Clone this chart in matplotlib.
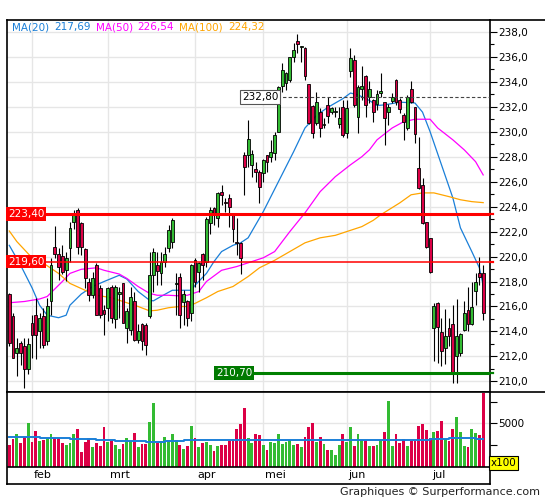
import matplotlib
matplotlib.use('Agg')
import matplotlib.pyplot as plt
from matplotlib.lines import Line2D
import numpy as np

# daily candles, trading-day index 0..125 (late jan -> mid jul)
opens = [217.0, 215.2, 212.25, 213.05, 212.8, 211.0, 214.65, 215.3, 214.0, 215.2,
         213.2, 216.4, 220.8, 220.2, 220.05, 218.9, 220.7, 222.8, 223.75, 222.7,
         220.6, 218.0, 216.9, 219.3, 217.45, 215.7, 215.85, 217.6, 215.0, 217.0,
         217.85, 214.25, 214.1, 216.4, 213.35, 214.6, 214.5, 215.2, 218.5, 219.3,
         218.65, 219.6, 220.7, 221.2, 217.8, 218.35, 216.35, 216.4, 215.45, 219.75,
         218.8, 220.2, 219.6, 222.7, 223.9, 223.1, 225.2, 224.35, 224.7, 223.35,
         221.2, 221.05, 228.15, 228.15, 227.3, 227.05, 226.8, 226.7, 228.1, 228.0,
         228.3, 230.0, 233.7, 233.9, 234.15, 235.95, 237.25, 236.8, 236.7, 233.8,
         232.1, 230.7, 231.55, 230.55, 232.15, 231.55, 231.55, 230.6, 231.95, 229.9,
         234.9, 235.75, 231.2, 233.45, 234.45, 232.8, 232.55, 232.2, 233.1, 232.4,
         231.55, 232.5, 234.15, 232.55, 231.35, 230.3, 233.45, 231.95, 227.1, 225.75,
         222.75, 221.5, 214.25, 216.26, 213.99, 212.65, 214.25, 214.6, 212.0, 212.3,
         214.1, 215.7, 214.6, 217.25, 218.7, 218.7]
highs = [217.1, 215.5, 213.45, 213.2, 213.45, 213.45, 215.3, 216.7, 215.45, 215.85,
         216.7, 219.9, 222.45, 220.7, 220.9, 220.4, 222.8, 223.75, 223.9, 222.8,
         220.65, 218.3, 218.8, 219.45, 217.7, 216.1, 217.6, 217.75, 217.75, 217.6,
         217.85, 215.85, 217.6, 217.2, 214.6, 214.65, 214.65, 220.4, 220.7, 220.4,
         220.4, 220.8, 222.5, 223.1, 218.65, 218.65, 217.35, 216.5, 219.4, 219.9,
         219.55, 220.25, 223.2, 224.0, 224.0, 225.2, 225.7, 224.7, 225.05, 223.5,
         223.1, 221.2, 228.35, 230.9, 228.5, 227.6, 226.9, 227.8, 228.15, 229.3,
         230.0, 233.7, 235.5, 234.8, 236.0, 237.1, 237.8, 236.9, 236.75, 233.85,
         232.15, 233.2, 231.9, 231.1, 232.8, 232.0, 232.0, 231.95, 232.55, 232.55,
         236.7, 236.15, 233.75, 235.25, 234.55, 234.05, 232.65, 233.35, 234.7, 232.4,
         232.2, 233.1, 234.2, 232.7, 231.5, 232.95, 234.05, 232.0, 229.6, 226.3,
         222.8, 221.5, 216.3, 216.35, 215.1, 215.8, 215.05, 216.1, 216.6, 213.9,
         216.4, 217.6, 218.0, 218.65, 220.0, 219.35]
lows = [212.8, 211.85, 210.45, 211.3, 209.5, 210.6, 211.85, 211.8, 212.65, 212.65,
        212.9, 215.3, 219.85, 218.1, 218.6, 218.05, 219.6, 222.2, 220.2, 220.1,
        217.45, 216.4, 216.65, 215.3, 215.05, 213.7, 214.8, 214.65, 214.25, 215.05,
        214.65, 213.05, 213.7, 213.2, 213.05, 212.5, 212.1, 215.05, 217.2, 217.7,
        217.7, 219.2, 220.4, 220.7, 215.3, 214.25, 214.5, 214.4, 214.8, 217.6,
        217.2, 218.1, 219.2, 221.8, 222.55, 222.4, 224.15, 223.6, 222.4, 221.2,
        220.1, 218.6, 224.95, 227.2, 226.4, 226.0, 224.3, 226.0, 226.8, 227.6,
        227.7, 229.95, 233.2, 233.35, 234.0, 235.6, 236.3, 235.6, 234.15, 230.6,
        229.5, 230.55, 229.55, 230.3, 230.7, 231.4, 231.2, 230.3, 229.6, 229.5,
        234.4, 232.0, 229.9, 232.55, 231.2, 232.3, 230.8, 231.75, 232.8, 228.95,
        230.55, 232.3, 232.15, 231.5, 229.35, 230.15, 232.3, 229.1, 225.45, 222.6,
        220.7, 218.7, 211.6, 211.45, 211.2, 211.4, 212.8, 209.9, 209.85, 212.0,
        214.0, 214.0, 214.5, 216.1, 217.75, 214.9]
closes = [213.05, 211.9, 212.7, 212.3, 211.0, 213.0, 213.7, 213.7, 215.1, 212.9,
          216.0, 219.3, 220.2, 219.2, 218.8, 219.9, 222.3, 223.5, 220.8, 220.8,
          218.3, 216.9, 218.25, 215.3, 215.3, 215.4, 217.45, 215.05, 217.6, 217.2,
          214.65, 215.6, 216.8, 213.35, 214.0, 213.25, 212.9, 218.55, 220.35, 218.85,
          219.6, 220.2, 222.1, 222.95, 217.9, 215.3, 217.0, 215.05, 219.35, 218.0,
          219.5, 219.3, 223.0, 223.75, 223.45, 225.1, 224.9, 224.3, 224.0, 222.2,
          221.05, 219.85, 227.15, 229.45, 228.2, 226.8, 225.6, 227.75, 227.55, 228.35,
          229.7, 233.6, 234.95, 234.7, 235.95, 236.55, 237.05, 236.9, 234.5, 230.7,
          229.9, 232.4, 230.3, 230.65, 231.25, 231.9, 231.65, 231.1, 229.75, 231.9,
          235.9, 232.15, 233.6, 233.7, 232.15, 233.45, 231.55, 233.0, 233.3, 231.1,
          232.0, 232.8, 232.4, 231.8, 230.75, 232.8, 232.4, 229.8, 225.5, 222.7,
          220.8, 218.75, 216.05, 214.39, 212.46, 213.64, 213.6, 210.7, 213.6, 213.8,
          215.5, 214.6, 215.95, 218.0, 218.4, 215.5]
# volume in units of 100
volumes = [2560, 3240, 3720, 2760, 3440, 5040, 2880, 4080, 3000, 3120,
           3360, 3720, 3280, 3280, 2760, 2520, 2760, 3720, 4320, 1680,
           2880, 3360, 2280, 2760, 2400, 4560, 2880, 3000, 2520, 2040,
           2640, 3360, 3000, 3840, 2280, 2640, 2640, 5160, 7320, 2760,
           3000, 3480, 3120, 3720, 3120, 2520, 2040, 2400, 4680, 3360,
           2280, 2760, 2880, 2520, 1800, 2400, 2520, 2520, 3000, 3240,
           4320, 4920, 6720, 3360, 2760, 3720, 3600, 2520, 1920, 2880,
           2760, 3720, 2640, 2880, 3120, 2520, 2640, 2280, 3480, 4560,
           5040, 2880, 3480, 2640, 1920, 1920, 1320, 2520, 3720, 2880,
           4560, 2400, 3720, 3120, 3000, 2400, 2400, 2520, 3120, 3960,
           7560, 2400, 3720, 2760, 3240, 2400, 3000, 3000, 4680, 4920,
           4200, 3360, 3960, 4080, 5280, 3240, 3000, 4320, 5760, 3960,
           2400, 2280, 4320, 3840, 3600, 8520]

# moving averages (index, value)
ma20_idx = [0, 3, 6, 8, 10, 13, 15, 16, 19, 22, 25, 29, 31, 34, 37, 38, 40, 43, 45, 48,
            49, 52, 54, 56, 59, 61, 63, 67, 71, 75, 78, 81, 84, 88, 90, 92, 95, 97, 99,
            103, 107, 109, 111, 114, 117, 119, 122, 124, 125]
ma20_val = [220.9, 219.3, 217.5, 216.1, 215.3, 215.1, 215.3, 216.1, 217.0, 217.6, 218.0,
            218.5, 218.2, 217.2, 216.5, 216.45, 216.8, 217.3, 217.3, 217.3, 217.7, 218.65,
            219.6, 220.4, 220.9, 221.1, 221.5, 223.6, 226.0, 228.4, 230.3, 231.3, 231.95,
            232.65, 233.1, 232.95, 232.5, 232.1, 232.15, 232.37, 232.3, 231.57, 230.0,
            227.35, 224.7, 222.3, 220.4, 219.1, 217.69]
ma50_idx = [0, 4, 8, 10, 14, 16, 19, 23, 25, 29, 31, 34, 37, 39, 42, 45, 47, 50, 52, 56,
            60, 63, 67, 70, 74, 78, 82, 86, 90, 93, 95, 97, 101, 104, 107, 111, 113, 117,
            120, 123, 125]
ma50_val = [216.3, 216.4, 216.6, 216.8, 218.0, 218.65, 218.98, 219.1, 218.9, 218.6, 218.25,
            217.6, 217.05, 216.9, 216.9, 216.85, 216.9, 217.2, 218.0, 218.9, 219.2, 219.5,
            219.9, 220.4, 222.0, 223.5, 225.2, 226.4, 227.35, 228.0, 228.55, 229.35, 230.3,
            230.8, 231.0, 231.0, 230.3, 229.35, 228.55, 227.6, 226.54]
ma100_idx = [0, 2, 6, 9, 13, 16, 20, 23, 27, 31, 34, 37, 39, 42, 45, 47, 49, 52, 55, 59,
             61, 63, 66, 70, 74, 78, 82, 86, 89, 93, 96, 98, 103, 106, 109, 112, 116, 119,
             122, 125]
ma100_val = [222.05, 221.2, 219.9, 219.47, 218.65, 217.85, 217.3, 216.9, 216.7, 216.3, 216.0,
             215.65, 215.7, 215.9, 216.0, 216.0, 216.25, 216.7, 217.2, 217.6, 218.0, 218.4,
             219.1, 219.7, 220.4, 221.1, 221.5, 221.7, 222.0, 222.4, 222.9, 223.35, 224.3,
             224.95, 225.1, 225.1, 224.8, 224.55, 224.4, 224.32]
# volume average, drawn as steps
vma_idx = [0, 8, 16, 23, 28, 36, 41, 46, 100, 111, 116, 123, 125]
vma_val = [3480, 3320, 3220, 3080, 2950, 2840, 2950, 3080, 3120, 3200, 3320, 3250, 3250]

month_start = [6, 26, 49, 67, 89, 111]
month_names = ['feb', 'mrt', 'apr', 'mei', 'jun', 'jul']

levels = [223.40, 219.60]
resist = 232.80
support = 210.70

GREEN = '#33bb33'
RED = '#dc0046'
BLUE = '#1a7fd8'
MAG = '#ff00ff'
ORANGE = '#ffa500'
GRID = '#e6e6e6'

plt.rcParams['font.family'] = ['DejaVu Sans']
fig = plt.figure(figsize=(5.45, 5.0), dpi=100)
W, H = 545.0, 500.0
left, right = 7 / W, 490 / W
ax = fig.add_axes([left, (H - 392) / H, right - left, (392 - 20) / H])
axv = fig.add_axes([left, (H - 484) / H, right - left, (484 - 392) / H])

n = len(closes)
x = np.arange(n)
o = np.array(opens); c = np.array(closes)
up = c >= o
cols = np.where(up, GREEN, RED)
XMAX = 126.8

# price panel
for m in month_start:
    ax.axvline(m, color=GRID, lw=1, zorder=0)
for p in range(210, 240, 2):
    ax.axhline(p, color=GRID, lw=1, zorder=0)

ax.vlines(x, lows, highs, color='black', lw=0.8, zorder=3)
body = np.maximum(np.abs(c - o), 0.06)
ax.bar(x, body, bottom=np.minimum(o, c), width=0.75, color=cols,
       edgecolor='black', linewidth=0.6, zorder=4)

ax.plot(ma20_idx, ma20_val, color=BLUE, lw=0.9, zorder=2)
ax.plot(ma50_idx, ma50_val, color=MAG, lw=0.9, zorder=2)
ax.plot(ma100_idx, ma100_val, color=ORANGE, lw=0.9, zorder=2)

ax.axhline(levels[0], color='red', lw=2.2, zorder=5)
ax.axhline(levels[1], color='red', lw=1.1, zorder=5)
ax.hlines(resist, 70.7, XMAX, color='#444444', lw=0.8, linestyles=(0, (3, 2)), zorder=5)
ax.hlines(support, 54.5, XMAX, color='#008000', lw=2.2, zorder=5)
# small marks on the price scale for each level
for lv, col in [(levels[0], 'red'), (levels[1], 'red'), (support, '#008000')]:
    ax.plot([XMAX, XMAX + 0.9], [lv, lv], color=col, lw=1.6, clip_on=False, zorder=6)

yt = ax.get_yaxis_transform()
for lv in levels:
    ax.text(0.002, lv, f'{lv:.2f}'.replace('.', ','), transform=yt, ha='left', va='center',
            color='white', fontsize=7.5, zorder=6,
            bbox=dict(boxstyle='square,pad=0.18', fc='#ff0000', ec='none'))
ax.text(61.4, resist, f'{resist:.2f}'.replace('.', ','), ha='left', va='center',
        color='black', fontsize=7.5, zorder=6,
        bbox=dict(boxstyle='square,pad=0.18', fc='white', ec='#555555', lw=0.8))
ax.text(54.6, support, f'{support:.2f}'.replace('.', ','), ha='left', va='center',
        color='white', fontsize=7.5, zorder=6,
        bbox=dict(boxstyle='square,pad=0.18', fc='#007a00', ec='none'))

# legend line
leg = [('MA(20)', BLUE), ('217,69', BLUE), ('MA(50)', MAG), ('226,54', MAG),
       ('MA(100)', ORANGE), ('224,32', ORANGE)]
xpos = 12
for s, col in leg:
    t = fig.text(xpos / W, 1 - 27 / H, s, color=col, fontsize=7.5, ha='left', va='center')
    fig.canvas.draw()
    bb = t.get_window_extent()
    xpos += bb.width + 5

ax.set_xlim(-0.6, XMAX)
ax.set_ylim(209.15, 238.95)
ax.yaxis.tick_right()
ax.set_yticks(np.arange(210, 240, 2))
ax.set_yticks(np.arange(210, 239, 1), minor=True)
ax.set_yticklabels([f'{v:.1f}'.replace('.', ',') for v in np.arange(210, 240, 2)], fontsize=7.5)
ax.tick_params(axis='y', which='major', direction='out', length=5, width=0.8, pad=1)
ax.tick_params(axis='y', which='minor', direction='out', length=3, width=0.8)
ax.set_xticks([])
for sp in ax.spines.values():
    sp.set_linewidth(1.2)

# volume panel
for m in month_start:
    axv.vlines(m, 0, 8600, color=GRID, lw=1, zorder=0)
axv.axhline(5000, color=GRID, lw=1, zorder=0)
axv.bar(x, volumes, width=0.75, color=cols, zorder=2)
axv.plot(vma_idx, vma_val, color=BLUE, lw=1.4, drawstyle='steps-post', zorder=3)
axv.axhline(0, color='black', lw=1.2, zorder=4)
for m, name in zip(month_start, month_names):
    axv.text(m + 0.5, -1000, name, ha='left', va='center', fontsize=8)
axv.set_xlim(-0.6, XMAX)
axv.set_ylim(-1980, 8600)
axv.yaxis.tick_right()
axv.set_yticks([2500, 5000, 7500])
axv.set_yticklabels(['', '5000', ''], fontsize=7.5)
axv.tick_params(axis='y', direction='out', length=5, width=0.8, pad=1)
axv.set_xticks([])
for sp in axv.spines.values():
    sp.set_linewidth(1.2)

# frame pieces to the right edge
for yy in (20, 392):
    fig.add_artist(Line2D([right, 1], [1 - yy / H, 1 - yy / H], color='black', lw=1.2))

fig.text(491 / W, 1 - 463 / H, 'x100', fontsize=7.5, ha='left', va='center',
         bbox=dict(boxstyle='square,pad=0.15', fc='#ffff00', ec='black', lw=0.8))
fig.text(540 / W, 1 - 492 / H, 'Graphiques \u00a9 Surperformance.com', fontsize=8,
         ha='right', va='center', color='#222222')

fig.savefig('out.png', dpi=100)
